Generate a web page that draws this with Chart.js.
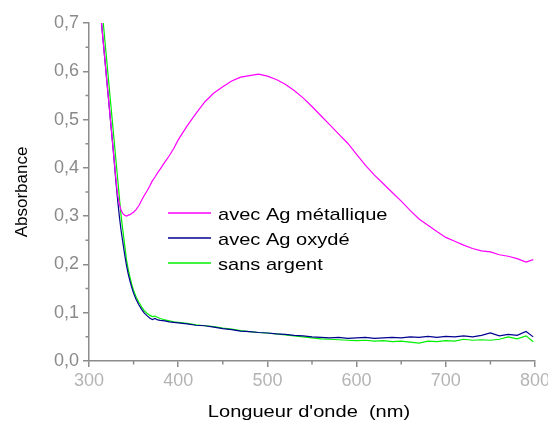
<!DOCTYPE html>
<html>
<head>
<meta charset="utf-8">
<script src="https://cdn.jsdelivr.net/npm/chart.js@4"></script>
<style>
  html, body { margin: 0; padding: 0; background: #fff; }
  #wrap { width: 548px; height: 423px; }
</style>
</head>
<body>
<div id="wrap"><canvas id="chart" width="548" height="423"></canvas></div>
<script>
// wavelengths (nm)
const wavelengths = [312, 314, 316, 318, 320, 322, 324, 326, 328, 330, 332, 334, 336, 338, 340, 342, 344, 346, 348, 350,
    353, 356, 359, 362, 365, 368, 371, 374, 377, 380, 385, 390, 395, 400,
    410, 420, 430, 440, 450, 460, 470, 480, 490, 500, 510, 520, 530, 540, 550, 560, 570, 580, 590, 600,
    610, 620, 630, 640, 650, 660, 670, 680, 690, 700, 710, 720, 730, 740, 750, 760, 770, 780, 790, 798];

const absMetal = [0.74, 0.70, 0.66, 0.62, 0.58, 0.54, 0.50, 0.46, 0.42, 0.38, 0.345, 0.325, 0.312, 0.305, 0.302, 0.300, 0.302, 0.303, 0.306, 0.308,
    0.314, 0.322, 0.333, 0.343, 0.352, 0.362, 0.373, 0.381, 0.390, 0.398, 0.412, 0.425, 0.440, 0.458,
    0.487, 0.513, 0.537, 0.555, 0.568, 0.580, 0.588, 0.591, 0.594, 0.590, 0.583, 0.573, 0.560, 0.545, 0.527, 0.508, 0.489, 0.470, 0.451, 0.428,
    0.405, 0.385, 0.367, 0.349, 0.331, 0.312, 0.294, 0.281, 0.268, 0.256, 0.248, 0.240, 0.233, 0.228, 0.226, 0.220, 0.217, 0.212, 0.205, 0.210];

const absOxyde = [0.74, 0.70, 0.66, 0.62, 0.58, 0.54, 0.50, 0.46, 0.42, 0.375, 0.335, 0.30, 0.27, 0.245, 0.22, 0.198, 0.18, 0.165, 0.152, 0.14,
    0.127, 0.116, 0.107, 0.099, 0.094, 0.089, 0.086, 0.088, 0.085, 0.084, 0.083, 0.081, 0.080, 0.079,
    0.077, 0.074, 0.073, 0.070, 0.067, 0.065, 0.062, 0.061, 0.059, 0.058, 0.056, 0.055, 0.053, 0.052, 0.050, 0.049, 0.048, 0.049, 0.047, 0.048,
    0.049, 0.047, 0.048, 0.049, 0.048, 0.050, 0.049, 0.051, 0.049, 0.051, 0.050, 0.052, 0.050, 0.053, 0.058, 0.052, 0.055, 0.053, 0.061, 0.050];

const absSans = [0.78, 0.74, 0.70, 0.66, 0.62, 0.58, 0.54, 0.50, 0.46, 0.42, 0.38, 0.34, 0.30, 0.27, 0.24, 0.21, 0.19, 0.173, 0.158, 0.146,
    0.132, 0.121, 0.112, 0.104, 0.099, 0.095, 0.092, 0.093, 0.090, 0.088, 0.085, 0.083, 0.081, 0.080,
    0.078, 0.075, 0.073, 0.071, 0.068, 0.066, 0.063, 0.061, 0.059, 0.058, 0.056, 0.054, 0.052, 0.050, 0.048, 0.046, 0.045, 0.044, 0.043, 0.042,
    0.043, 0.041, 0.042, 0.040, 0.041, 0.039, 0.037, 0.041, 0.040, 0.042, 0.041, 0.045, 0.043, 0.044, 0.043, 0.045, 0.050, 0.046, 0.052, 0.040];

const seriesLabels = ["avec Ag métallique", "avec Ag oxydé", "sans argent"];
const seriesColors = ["#ff00ff", "#00008f", "#00f000"];
const xTitle = "Longueur d'onde  (nm)";
const yTitle = "Absorbance";

const FONT = "'Liberation Sans', Arial, sans-serif";
const AXIS = "#8c8c8c";
const STRETCH = 1.18; // the source text is a bit wider than plain Arial

function toPoints(ys) {
    return wavelengths.map((x, i) => ({ x: x, y: ys[i] }));
}

function wideText(ctx, text, x, y, align) {
    ctx.save();
    ctx.translate(x, y);
    ctx.scale(STRETCH, 1);
    ctx.textAlign = align;
    ctx.fillText(text, 0, 0);
    ctx.restore();
}

// short ticks half way between the labelled ones
const minorTicks = {
    id: "minorTicks",
    afterDraw(chart) {
        const ctx = chart.ctx;
        const xs = chart.scales.x, ys = chart.scales.y;
        ctx.save();
        ctx.strokeStyle = AXIS;
        ctx.lineWidth = 1.5;
        ctx.beginPath();
        for (let v = 350; v < 800; v += 100) {
            const px = xs.getPixelForValue(v);
            ctx.moveTo(px, ys.bottom);
            ctx.lineTo(px, ys.bottom + 3.5);
        }
        for (let v = 0.05; v < 0.7; v += 0.1) {
            const py = ys.getPixelForValue(v);
            ctx.moveTo(xs.left, py);
            ctx.lineTo(xs.left - 3.5, py);
        }
        ctx.stroke();
        ctx.restore();
    }
};

// legend inside the plot + x axis title
const labels = {
    id: "labels",
    afterDatasetsDraw(chart) {
        const ctx = chart.ctx;
        const xs = chart.scales.x;
        ctx.save();
        ctx.font = "17px " + FONT;
        ctx.textBaseline = "alphabetic";
        ctx.fillStyle = "#000";
        chart.data.datasets.forEach((ds, i) => {
            const y = 213 + i * 25;
            ctx.strokeStyle = ds.borderColor;
            ctx.lineWidth = 1.3;
            ctx.beginPath();
            ctx.moveTo(168, y);
            ctx.lineTo(211, y);
            ctx.stroke();
            wideText(ctx, ds.label, 218, y + 7, "left");
        });
        wideText(ctx, xTitle, (xs.left + xs.right) / 2 - 3, 417, "center");
        ctx.restore();
    }
};

const ctx = document.getElementById("chart").getContext("2d");
new Chart(ctx, {
    type: "line",
    data: {
        datasets: [absMetal, absOxyde, absSans].map((ys, i) => ({
            label: seriesLabels[i],
            data: toPoints(ys),
            borderColor: seriesColors[i],
            backgroundColor: seriesColors[i],
            borderWidth: 1.2,
            pointRadius: 0,
            fill: false,
            tension: 0
        }))
    },
    options: {
        responsive: false,
        animation: false,
        layout: { padding: { left: 0, right: 13, top: 23, bottom: 0 } },
        plugins: {
            legend: { display: false },
            tooltip: { enabled: false }
        },
        scales: {
            x: {
                type: "linear",
                min: 300,
                max: 800,
                ticks: { stepSize: 100, color: "#b4b4b4", padding: 3, font: { family: FONT, size: 18 } },
                grid: { drawOnChartArea: false, drawTicks: true, tickLength: 6, color: AXIS, lineWidth: 1.5 },
                border: { color: AXIS, width: 1.5 },
                afterFit(s) { s.height = 62; s.paddingLeft = 0; s.paddingRight = 0; }
            },
            y: {
                min: 0,
                max: 0.7,
                ticks: {
                    stepSize: 0.1,
                    color: "#8a8a8a",
                    padding: 4,
                    font: { family: FONT, size: 18 },
                    callback: v => v.toFixed(1).replace(".", ",")
                },
                grid: { drawOnChartArea: false, drawTicks: true, tickLength: 6, color: AXIS, lineWidth: 1.5 },
                border: { color: AXIS, width: 1.5 },
                title: { display: true, text: yTitle, color: "#000", font: { family: FONT, size: 17 }, padding: { top: 12, bottom: 0 } },
                afterFit(s) { s.width = 89; s.paddingTop = 0; s.paddingBottom = 0; }
            }
        }
    },
    plugins: [minorTicks, labels]
});
</script>
</body>
</html>
